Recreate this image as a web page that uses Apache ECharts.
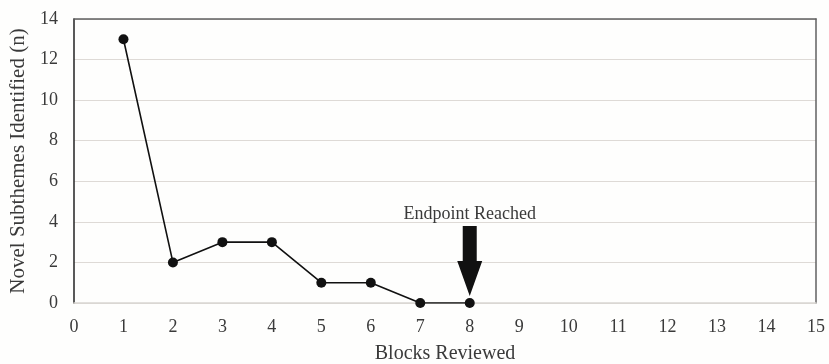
<!DOCTYPE html>
<html>
<head>
<meta charset="utf-8">
<script src="https://cdn.jsdelivr.net/npm/echarts@6/dist/echarts.min.js"></script>
<style>html,body{margin:0;padding:0;background:#fefefd;}#c{width:829px;height:364px;}</style>
</head>
<body>
<div id="c"></div>
<script>
const blocks = [1, 2, 3, 4, 5, 6, 7, 8];
const novelSubthemes = [13, 2, 3, 3, 1, 1, 0, 0];
const endpointBlock = 8;
const endpointLabel = 'Endpoint Reached';
const xName = 'Blocks Reviewed';
const yName = 'Novel Subthemes Identified (n)';

const font = 'Liberation Serif, Times New Roman, serif';
const txt = '#3a3a3a';
const chart = echarts.init(document.getElementById('c'));
chart.setOption({
  backgroundColor: '#fefefd',
  animation: false,
  grid: { left: 74, right: 13, top: 19, bottom: 61, outerBoundsMode: 'none', containLabel: false },
  xAxis: [{
    type: 'value', min: 0, max: 15, interval: 1,
    name: xName, nameLocation: 'middle', nameGap: 41,
    nameTextStyle: { fontFamily: font, fontSize: 20, color: txt },
    axisLine: { show: true, onZero: false, lineStyle: { color: '#d9d6d2', width: 1.5 } },
    axisTick: { show: false },
    axisLabel: { fontFamily: font, fontSize: 18, color: txt, margin: 15 },
    splitLine: { show: false }
  }, {
    type: 'value', min: 0, max: 15, position: 'top',
    axisLine: { show: true, onZero: false, lineStyle: { color: '#606060', width: 1.5 } },
    axisTick: { show: false }, axisLabel: { show: false }, splitLine: { show: false }
  }],
  yAxis: [{
    type: 'value', min: 0, max: 14, interval: 2,
    name: yName, nameLocation: 'middle', nameGap: 41,
    nameTextStyle: { fontFamily: font, fontSize: 21, color: txt },
    axisLine: { show: true, onZero: false, lineStyle: { color: '#222', width: 1.5 } },
    axisTick: { show: false },
    axisLabel: { fontFamily: font, fontSize: 18, color: txt, margin: 16 },
    splitLine: { show: true, lineStyle: { color: '#dedad6', width: 1.2 } }
  }, {
    type: 'value', min: 0, max: 14, position: 'right',
    axisLine: { show: true, onZero: false, lineStyle: { color: '#606060', width: 1.5 } },
    axisTick: { show: false }, axisLabel: { show: false }, splitLine: { show: false }
  }],
  series: [{
    type: 'line',
    data: blocks.map((b, i) => [b, novelSubthemes[i]]),
    symbol: 'circle', symbolSize: 10,
    itemStyle: { color: '#111' },
    lineStyle: { color: '#111', width: 1.6 },
    markPoint: {
      silent: true,
      data: [{ coord: [endpointBlock, 0] }],
      symbol: 'path://M5.5,0 L19.5,0 L19.5,35 L25,35 L12.5,70 L0,35 L5.5,35 Z',
      symbolSize: [25, 70],
      symbolKeepAspect: false,
      symbolOffset: [0, -42],
      itemStyle: { color: '#111' },
      label: { show: true, position: 'top', distance: 3, formatter: endpointLabel,
        fontFamily: font, fontSize: 18, color: txt }
    }
  }]
});
</script>
</body>
</html>
